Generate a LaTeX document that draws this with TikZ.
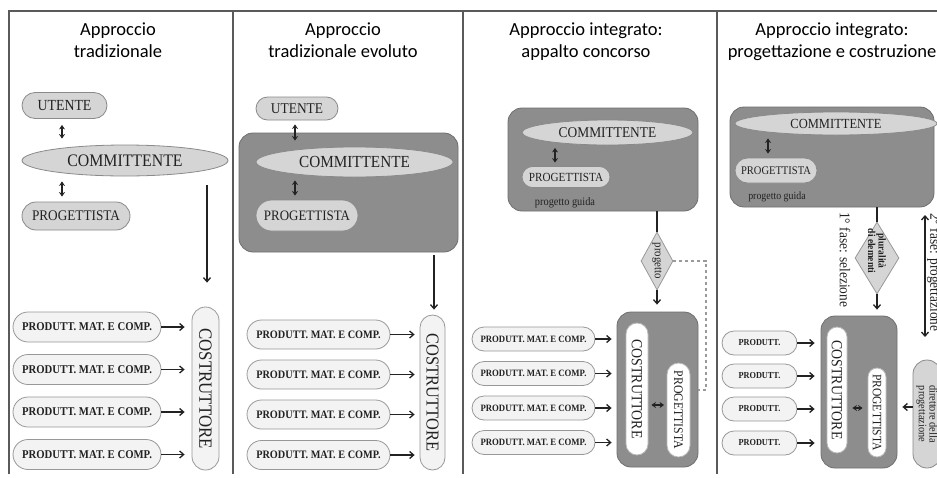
\documentclass[tikz,border=0pt]{standalone}
\usepackage{fontspec}
\usepackage{graphicx}
\setmainfont{Liberation Serif}[FakeStretch=0.9]
\newfontfamily\titlefont{Carlito}
\usetikzlibrary{shapes.geometric,arrows.meta}

\definecolor{framec}{HTML}{5A5A5A}
\definecolor{inkc}{HTML}{222222}
\definecolor{lgfill}{HTML}{D5D5D5}
\definecolor{lgdraw}{HTML}{8A8A8A}
\definecolor{pfill}{HTML}{F3F3F3}
\definecolor{pdraw}{HTML}{989898}
\definecolor{dkfill}{HTML}{8D8D8D}
\definecolor{dkdraw}{HTML}{6E6E6E}
\definecolor{wdraw}{HTML}{B8B8B8}
\definecolor{dashc}{HTML}{9A9A9A}

\newcommand\setfs[1]{\fontsize{#1}{#1}\selectfont}

\tikzset{
  every node/.style={text=inkc, inner sep=0pt},
  lightpill/.style={draw=lgdraw, fill=lgfill, line width=0.8pt},
  palepill/.style={draw=pdraw, fill=pfill, line width=0.8pt},
  whitepill/.style={draw=wdraw, fill=white, line width=0.8pt},
  darkbox/.style={draw=dkdraw, fill=dkfill, line width=0.8pt, rounded corners=14pt},
  ovalnode/.style={ellipse, draw=lgdraw, fill=lgfill, line width=0.8pt},
  choice/.style={diamond, draw=pdraw, fill=lgfill, line width=0.8pt},
  frameline/.style={draw=framec, line width=1.1pt},
  flow/.style={-{Straight Barb[length=4pt,width=7pt]}, line width=1.3pt, draw=inkc},
  flowboth/.style={{Straight Barb[length=4pt,width=7pt]}-{Straight Barb[length=4pt,width=7pt]}, line width=1.3pt, draw=inkc},
  plainline/.style={line width=1.3pt, draw=inkc},
  twoway/.style={{Stealth[length=4.5pt,width=6pt]}-{Stealth[length=4.5pt,width=6pt]}, line width=1.3pt, draw=inkc},
  dashline/.style={draw=dashc, dashed, line width=1.1pt},
  titletext/.style={font=\titlefont\setfs{18.5}, anchor=base, text=black},
}

\begin{document}
\begin{tikzpicture}[x=1pt,y=-1pt]
\useasboundingbox (0,0) rectangle (937,477);
\clip (0,0) rectangle (937,477);
\fill[white] (0,0) rectangle (937,477);

% frame of the four columns
\draw[frameline] (9,474) -- (9,11) -- (937,11);
\foreach \xx in {233,463,717} \draw[frameline] (\xx,11) -- (\xx,474);

% ---------------- column 1: approccio tradizionale
\node[titletext] (t1a) at (118,35) {Approccio};
\node[titletext] (t1b) at (118,57) {tradizionale};
\node[lightpill, minimum width=85, minimum height=26, rounded corners=13, font=\setfs{15.4}] (ut1) at (64.5,105.5) {UTENTE};
\node[ovalnode, minimum width=206, minimum height=31, font=\setfs{17.6}] (cm1) at (125,160.5) {COMMITTENTE};
\node[lightpill, minimum width=108, minimum height=28, rounded corners=14, font=\setfs{14.7}] (pg1) at (76,216) {PROGETTISTA};
\node[palepill, minimum width=27, minimum height=163, rounded corners=13.5, font=\setfs{18.7}] (cs1) at (205.5,388.5) {\rotatebox{-90}{COSTRUTTORE}};
\draw[twoway, shorten <=6, shorten >=6] ([xshift=-2.5]ut1.south) -- ([xshift=-2.5]ut1.south |- cm1.north);
\draw[twoway, shorten <=5, shorten >=5] ([xshift=-14]pg1.north |- cm1.south) -- ([xshift=-14]pg1.north);
\draw[flow, shorten <=9, shorten >=24] ([xshift=1.5]cs1.north |- cm1.south) -- ([xshift=1.5]cs1.north);
\foreach \i/\yy in {1/327,2/369.5,3/412,4/454.5}{
  \node[palepill, minimum width=148, minimum height=30, rounded corners=15, font=\bfseries\setfs{11.9}] (pa\i) at (87,\yy) {PRODUTT. MAT. E COMP.};
  \draw[flow, shorten >=7] (pa\i.east) -- (pa\i.east -| cs1.west);
}

% ---------------- column 2: approccio tradizionale evoluto
\node[titletext] (t2a) at (343,35) {Approccio};
\node[titletext] (t2b) at (343,57) {tradizionale evoluto};
\node[darkbox, minimum width=219, minimum height=119] (bx2) at (348.5,192.5) {};
\node[lightpill, minimum width=82, minimum height=23, rounded corners=11.5, font=\setfs{14.9}] (ut2) at (297,108.5) {UTENTE};
\node[ovalnode, minimum width=197, minimum height=30, font=\setfs{16.9}] (cm2) at (354.5,162) {COMMITTENTE};
\node[lightpill, minimum width=102, minimum height=31, rounded corners=15.5, font=\setfs{14.4}] (pg2) at (307,215.5) {PROGETTISTA};
\node[palepill, minimum width=25, minimum height=155, rounded corners=12.5, font=\setfs{18.2}] (cs2) at (432.5,392.5) {\rotatebox{-90}{COSTRUTTORE}};
\draw[twoway, shorten <=4, shorten >=6] ([xshift=-2]ut2.south) -- ([xshift=-2]ut2.south |- cm2.north);
\draw[twoway, shorten <=3, shorten >=4] ([xshift=-12]pg2.north |- cm2.south) -- ([xshift=-12]pg2.north);
\draw[flow, shorten <=3, shorten >=5] ([xshift=1.5]cs2.north |- bx2.south) -- ([xshift=1.5]cs2.north);
\foreach \i/\yy in {1/334.5,2/374.5,3/414.5,4/455}{
  \node[palepill, minimum width=143, minimum height=29, rounded corners=14.5, font=\bfseries\setfs{11.4}] (pb\i) at (318.5,\yy) {PRODUTT. MAT. E COMP.};
  \draw[flow, shorten >=5] (pb\i.east) -- (pb\i.east -| cs2.west);
}

% ---------------- column 3: appalto concorso
\node[titletext] (t3a) at (586,35) {Approccio integrato:};
\node[titletext] (t3b) at (586,57) {appalto concorso};
\node[darkbox, minimum width=190, minimum height=103] (bx3) at (603,159.5) {};
\node[ovalnode, minimum width=171, minimum height=25, font=\setfs{14.9}] (cm3) at (607.5,132.5) {COMMITTENTE};
\node[lightpill, minimum width=88, minimum height=21, rounded corners=10.5, font=\setfs{12.4}] (pg3) at (566,177) {PROGETTISTA};
\node[font=\setfs{11.5}] (gd3) at (565,203) {progetto guida};
\draw[twoway, shorten <=2.5, shorten >=3.5] ([xshift=-11]pg3.north |- cm3.south) -- ([xshift=-11]pg3.north);
\node[choice, minimum width=32, minimum height=58] (d3) at (657,261) {};
\node[rotate=-90, font=\setfs{12.1}] (d3t) at (657,261) {progetto};
\node[darkbox, minimum width=81, minimum height=155] (ib3) at (657.5,389.5) {};
\node[whitepill, minimum width=22, minimum height=132, rounded corners=11, font=\setfs{15.4}] (cs3) at (637,389) {\rotatebox{-90}{COSTRUTTORE}};
\node[whitepill, minimum width=23, minimum height=94, rounded corners=11.5, font=\setfs{13.1}] (pg3b) at (678.5,410) {\rotatebox{-90}{PROGETTISTA}};
\draw[plainline] (d3.north |- bx3.south) -- (d3.north);
\draw[flow, shorten >=7] (d3.south) -- (d3.south |- ib3.north);
\coordinate (dj3) at (706,390);
\draw[dashline] (d3.east) -| (dj3) -- (dj3 -| ib3.east);
\draw[twoway, shorten <=3, shorten >=2.5] ([yshift=-16]cs3.east) coordinate (h3) -- (h3 -| pg3b.west);
\foreach \i/\yy in {1/339,2/373.5,3/408,4/442.5}{
  \node[palepill, minimum width=123, minimum height=24, rounded corners=12, font=\bfseries\setfs{9.7}] (pc\i) at (533.5,\yy) {PRODUTT. MAT. E COMP.};
  \draw[flow, shorten >=5] (pc\i.east) -- (pc\i.east -| ib3.west);
}

% ---------------- column 4: progettazione e costruzione
\node[titletext] (t4a) at (832,35) {Approccio integrato:};
\node[titletext] (t4b) at (832,57) {progettazione e costruzione};
\node[darkbox, minimum width=204, minimum height=100] (bx4) at (832,157) {};
\node[ovalnode, minimum width=202, minimum height=23, font=\setfs{13.9}] (cm4) at (836,123.5) {COMMITTENTE};
\node[lightpill, minimum width=82, minimum height=25, rounded corners=12.5, font=\setfs{11.7}] (pg4) at (776,170.5) {PROGETTISTA};
\node[font=\setfs{11}] (gd4) at (777,197) {progetto guida};
\draw[twoway, shorten <=3, shorten >=4] ([xshift=-8]pg4.north |- cm4.south) -- ([xshift=-8]pg4.north);
\node[choice, minimum width=44, minimum height=72] (d4) at (877,258) {};
\node[rotate=-90, align=center, font=\bfseries\setfs{10.5}] (d4t) at (877,251) {pluralità\\di elementi};
\node[darkbox, minimum width=76, minimum height=152] (ib4) at (859,392) {};
\node[whitepill, minimum width=20, minimum height=126, rounded corners=10, font=\setfs{15.4}] (cs4) at (837,390) {\rotatebox{-90}{COSTRUTTORE}};
\node[whitepill, minimum width=18, minimum height=89, rounded corners=9, font=\setfs{12.8}] (pg4b) at (877,412.5) {\rotatebox{-90}{PROGETTISTA}};
\node[lightpill, minimum width=28, minimum height=108, rounded corners=14, font=\setfs{11.5}] (dr4) at (927,414) {\rotatebox{-90}{\shortstack{direttore della\\progettazione}}};
\draw[plainline] (d4.north |- bx4.south) -- (d4.north);
\draw[flow, shorten >=6] (d4.south) -- (d4.south |- ib4.north);
\draw[twoway, shorten <=5, shorten >=5] ([yshift=-18]cs4.east) coordinate (h4) -- (h4 -| pg4b.west);
\draw[flow, shorten >=5] ([yshift=7]dr4.west) coordinate (h5) -- (h5 -| ib4.east);
\node[rotate=-90, anchor=west, font=\setfs{14.9}] (f1) at (845,212) {1° fase: selezione};
\coordinate (v4a) at (925,215);
\coordinate (v4b) at (925,337);
\draw[flowboth] (v4a) -- (v4b);
\node[rotate=-90, anchor=west, font=\setfs{14.9}] (f2) at (934,213) {2° fase: progettazione};
\foreach \i/\yy in {1/343,2/376,3/409,4/443}{
  \node[palepill, minimum width=75, minimum height=24, rounded corners=12, font=\bfseries\setfs{9.2}] (pd\i) at (759.5,\yy) {PRODUTT.};
  \draw[flow, shorten >=6] (pd\i.east) -- (pd\i.east -| ib4.west);
}
\end{tikzpicture}
\end{document}
